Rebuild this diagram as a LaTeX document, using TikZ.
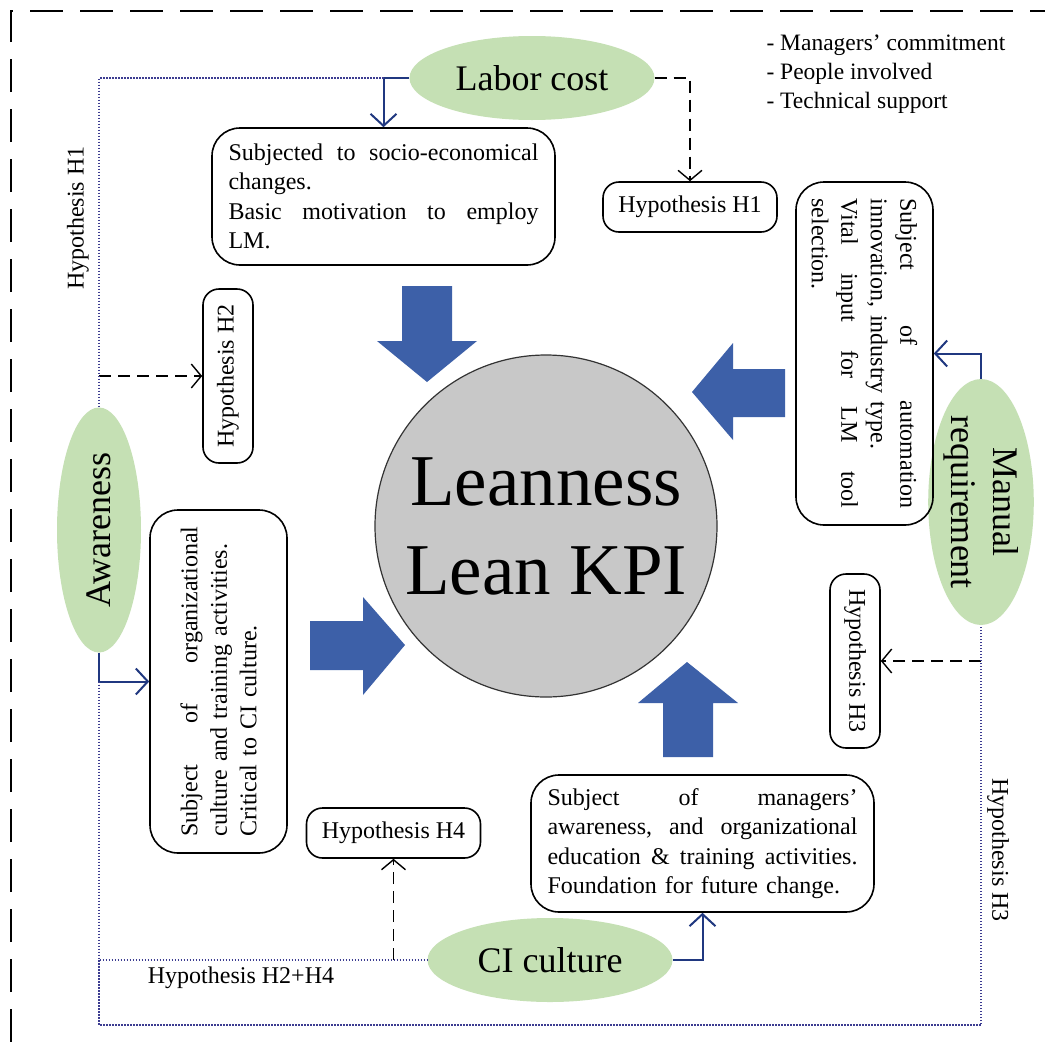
\documentclass[tikz,border=0pt]{standalone}
\usepackage{fontspec}
\setmainfont{Liberation Serif}
\usetikzlibrary{positioning,shapes.geometric,arrows.meta}
\definecolor{leafgreen}{RGB}{197,224,180}
\definecolor{kpigray}{RGB}{200,200,200}
\definecolor{blockblue}{RGB}{61,96,168}
\definecolor{linknavy}{RGB}{32,56,128}
\definecolor{dotnavy}{RGB}{60,60,145}

\begin{document}
\begin{tikzpicture}[x=1pt,y=-1pt]
			% Define box text width
			\def\boxwidth{310pt}
			
			\tikzstyle{factor}=[ellipse,fill=leafgreen,minimum width=245pt,minimum height=84pt,inner sep=0pt,align=center,font=\fontsize{36}{42}\selectfont]
			\tikzstyle{text box}=[draw,rectangle,rounded corners=28pt,line width=1.6pt,text width=\boxwidth,inner xsep=16.5pt,inner ysep=0pt,minimum height=137pt,align=left,font=\fontsize{24}{29.5}\selectfont]
			\tikzstyle{hypo box}=[draw,rectangle,rounded corners=16pt,line width=1.6pt,minimum width=174pt,minimum height=50pt,inner sep=0pt,font=\fontsize{24}{29}\selectfont]
			\tikzstyle{kpi}=[circle,draw=black!80,line width=1.2pt,fill=kpigray,minimum size=342pt,inner sep=0pt,align=center,font=\fontsize{73}{89}\selectfont]
			\tikzstyle{annot}=[font=\fontsize{24}{29}\selectfont]
			\tikzstyle{factor edge}=[draw=linknavy,line width=2pt,-{Straight Barb[length=12pt,width=26pt]}]
			\tikzstyle{hypo edge}=[draw=black,line width=1.4pt,dash pattern=on 12pt off 7pt,-{Straight Barb[length=10pt,width=24pt]}]
			\tikzstyle{loop edge}=[draw=dotnavy,line width=1.1pt,dash pattern=on 1.5pt off 1.5pt]
			\tikzstyle{push}=[fill=blockblue]
			\tikzstyle{frame}=[line width=2pt,dash pattern=on 33pt off 17pt]
			
			\useasboundingbox[fill=white] (0,0) rectangle (1045,1042);
			
			% Draw the outer frame
			\draw[frame] (11,1042) -- (11,11) -- (1045,11);
			
			% Draw the central KPI
			\node[kpi] (KPI) at (546,526) {Leanness\\Lean KPI};
			
			% Draw the factor ellipses
			\node[factor] (F-labor) at (532,78) {Labor cost};
			\node[factor, rotate=90] (F-aware) at (99,530) {Awareness};
			\node[factor, rotate=-90] (F-manual) at (981,502) {Manual\\requirement};
			\node[factor] (F-ci) at (550,960) {CI culture};
			
			% Draw the description boxes (full lines spread with \hfill)
			\node[text box] (B-labor) at (383.5,196.5)
				{Subjected \hfill to \hfill socio-economical\\changes.\\Basic \hfill motivation \hfill to \hfill employ\\LM.};
			\node[text box, rotate=-90] (B-manual) at (864.5,353.5)
				{Subject \hfill of \hfill automation\\innovation, industry type.\\Vital \hfill input \hfill for \hfill LM \hfill tool\\selection.};
			\node[text box, rotate=90] (B-aware) at (218.5,681.5)
				{Subject \hfill of \hfill organizational\\culture and training activities.\\Critical to CI culture.};
			\node[text box] (B-ci) at (702.5,843.5)
				{Subject \hfill of \hfill managers’\\awareness, \hfill and \hfill organizational\\education \hfill \& \hfill training \hfill activities.\\Foundation for future change.};
			
			% Draw the hypothesis boxes
			\foreach \name/\x/\y/\rot in {1/690/207/0, 2/228/376/90, 3/855/661/-90, 4/393.5/833/0}
			\node[hypo box, rotate=\rot] (H-\name) at (\x,\y) {Hypothesis H\name};
			
			% Draw the block arrows into the KPI
			\fill[push] (427,382) -- (377,341) -- (402,341) -- (402,286) -- (452,286) -- (452,341) -- (477,341) -- cycle;
			\fill[push] (692,392) -- (733,343) -- (733,369) -- (785,369) -- (785,417) -- (733,417) -- (733,440) -- cycle;
			\fill[push] (405,645) -- (363,597) -- (363,621) -- (310,621) -- (310,670) -- (363,670) -- (363,695) -- cycle;
			\fill[push] (687,662) -- (638,703) -- (663,703) -- (663,757) -- (713,757) -- (713,703) -- (738,703) -- cycle;
			
			% Connect every factor with its box
			\path[factor edge] (F-labor.west) -| (B-labor.north);
			\path[factor edge] (F-aware.west) |- (B-aware.north);
			\path[factor edge] (F-manual.west) |- (B-manual.north);
			\path[factor edge] (F-ci.east) -| (B-ci.south);
			
			% Connect the factors with the hypotheses
			\path[hypo edge] (F-labor.east) -| (H-1.north);
			\path[hypo edge] (F-aware.east |- H-2.north) -- (H-2.north);
			\path[hypo edge] (F-manual.east |- H-3.north) -- (H-3.north);
			\path[hypo edge] (H-4.south |- F-ci.west) -- (H-4.south);
			
			% Draw the dotted hypothesis loops
			\coordinate (loop) at (540,1025);
			\path[loop edge] (B-labor.north |- F-labor.west) -| (F-aware.east);
			\path[loop edge] (F-aware.west |- B-aware.north) |- (F-ci.west);
			\path[loop edge] (F-aware.west |- F-ci.west) |- (loop) -| (F-manual.east);
			
			% Annotate the loops
			\node[annot, rotate=90] (L-H1) at (78,218) {Hypothesis H1};
			\node[annot, rotate=-90] (L-H3) at (998,850) {Hypothesis H3};
			\node[annot] (L-H24) at (241,978) {Hypothesis H2+H4};
			\node[annot, anchor=west, align=left, font=\fontsize{23.5}{29}\selectfont] (L-list) at (763,74)
				{- Managers’ commitment\\- People involved\\- Technical support};
		\end{tikzpicture}
\end{document}
